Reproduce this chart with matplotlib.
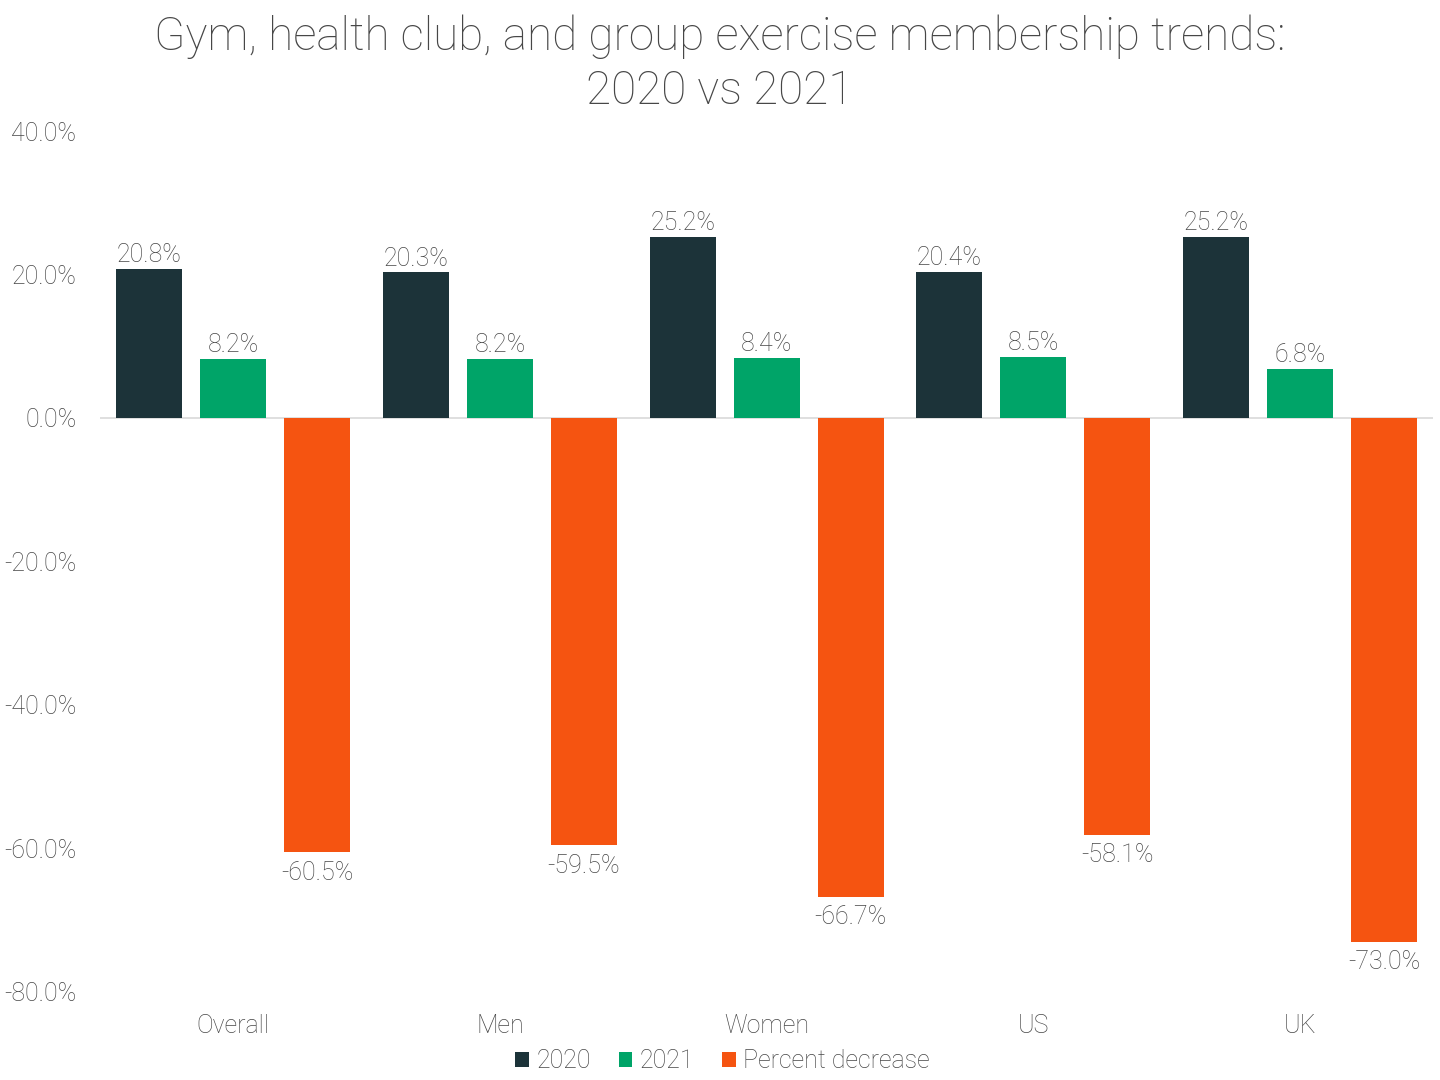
import numpy as np
import matplotlib
matplotlib.use("Agg")
from matplotlib import pyplot as plt
from matplotlib.ticker import FuncFormatter

plt.rcParams['font.family'] = ['Roboto', 'DejaVu Sans']
plt.rcParams['font.weight'] = 'light'

categories = ["Overall", "Men", "Women", "US", "UK"]
vals2020 = [20.8, 20.3, 25.2, 20.4, 25.2]
vals2021 = [8.2, 8.2, 8.4, 8.5, 6.8]
decrease = [-60.5, -59.5, -66.7, -58.1, -73.0]

text_col = '#474747'

fig = plt.figure(figsize=(14.4, 10.8), dpi=100)
ax = fig.add_axes([0.0694, 0.0815, 0.926, 0.7972])

x = np.arange(len(categories))
w = 0.247
off = 0.315
series = [(vals2020, '#1c3339', '2020', -off),
          (vals2021, '#00a468', '2021', 0),
          (decrease, '#f55411', 'Percent decrease', off)]

for vals, col, lab, dx in series:
    bars = ax.bar(x + dx, vals, w, color=col, label=lab, zorder=2)
    for b, v in zip(bars, vals):
        if v >= 0:
            ax.text(b.get_x() + b.get_width() / 2, v + 0.25, f"{v:.1f}%",
                    ha='center', va='bottom', fontsize=18, color=text_col)
        else:
            ax.text(b.get_x() + b.get_width() / 2, v - 1.2, f"{v:.1f}%",
                    ha='center', va='top', fontsize=18, color=text_col)

ax.set_xlim(-0.5, 4.5)
ax.set_ylim(-80, 40)
ax.set_yticks(np.arange(-80, 41, 20))
ax.yaxis.set_major_formatter(FuncFormatter(lambda v, p: f"{v:.1f}%"))
ax.set_xticks(x)
ax.set_xticklabels(categories)
ax.tick_params(axis='both', length=0, labelsize=18, labelcolor=text_col)
ax.tick_params(axis='x', pad=16)
ax.tick_params(axis='y', pad=17)
for s in ax.spines.values():
    s.set_visible(False)
ax.axhline(0, color='#d9d9d9', lw=1.2, zorder=1)

fig.suptitle("Gym, health club, and group exercise membership trends:\n2020 vs 2021",
             fontsize=33, fontweight='light', color=text_col, y=0.987, linespacing=1.3)

ax.legend(loc='upper center', bbox_to_anchor=(0.467, -0.04), ncol=3, frameon=False,
          fontsize=18, labelcolor=text_col, handlelength=0.55, handleheight=0.55,
          handletextpad=0.3, columnspacing=1.1)

fig.savefig("out.png", dpi=100)
